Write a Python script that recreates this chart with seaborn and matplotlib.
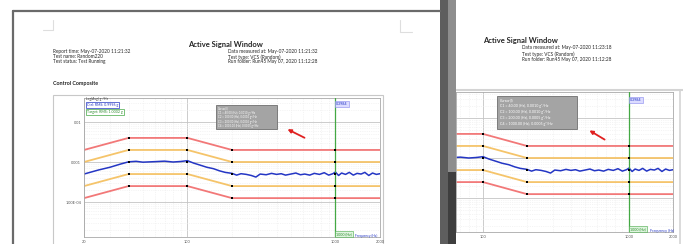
import numpy as np
import pandas as pd
import seaborn as sns
import matplotlib.pyplot as plt
from matplotlib.patches import Rectangle, FancyArrowPatch

# reference profile (Hz, g^2/Hz)
prof_freq = [20, 40, 100, 200, 2000]
prof_psd = [0.0005, 0.001, 0.001, 0.0005, 0.0005]
# breakpoints shown with markers
bp_freq = [40, 100, 200, 1000]
bp_psd = [0.001, 0.001, 0.0005, 0.0005]
# alarm / abort limit factors
limit_names = ["abort_hi", "alarm_hi", "alarm_lo", "abort_lo"]
limit_factors = [4, 2, 0.5, 0.25]

# control signal
ctrl_freq = [20, 25, 30, 35, 40, 45, 50, 60, 70, 80, 90, 100, 110, 120, 135, 150,
             165, 180, 200, 215, 230, 250, 270, 290, 310, 340, 370, 400, 430, 460,
             500, 540, 580, 620, 670, 720, 780, 840, 900, 960, 1000, 1050, 1100,
             1170, 1240, 1320, 1400, 1490, 1580, 1680, 1780, 1890, 2000]
ctrl_psd = [0.00050, 0.00063, 0.00074, 0.00088, 0.00101, 0.00104, 0.00099, 0.00102,
            0.00105, 0.00100, 0.00103, 0.00108, 0.00094, 0.00085, 0.00074, 0.00068,
            0.00060, 0.00055, 0.00052, 0.00047, 0.00051, 0.00049, 0.00046, 0.00042,
            0.00050, 0.00048, 0.00052, 0.00049, 0.00051, 0.00047, 0.00050, 0.00053,
            0.00048, 0.00050, 0.00047, 0.00052, 0.00049, 0.00054, 0.00047, 0.00051,
            0.00056, 0.00046, 0.00053, 0.00049, 0.00055, 0.00047, 0.00052, 0.00050,
            0.00055, 0.00046, 0.00053, 0.00049, 0.00051]

cursor_lines = ["Cursor(l)",
                "C1 = 40.00 (Hz), 0.0010 g\u00b2/Hz",
                "C2 = 100.00 (Hz), 0.0010 g\u00b2/Hz",
                "C3 = 200.00 (Hz), 0.0005 g\u00b2/Hz",
                "C4 = 1000.00 (Hz), 0.0005 g\u00b2/Hz"]

sns.set_theme(style="white")
plt.rcParams["font.family"] = ["Lato", "DejaVu Sans"]

W, H = 683, 244
fig = plt.figure(figsize=(W / 100, H / 100), dpi=100)
fig.patch.set_facecolor("white")


def fbox(x0, y0, x1, y1):
    return [x0 / W, 1 - y1 / H, (x1 - x0) / W, (y1 - y0) / H]


def put(x, y, s, **kw):
    fig.text(x / W, 1 - y / H, s, **kw)


def rect(x0, y0, x1, y1, **kw):
    fig.add_artist(Rectangle((x0 / W, 1 - y1 / H), (x1 - x0) / W, (y1 - y0) / H,
                             transform=fig.transFigure, **kw))


def fline(xs, ys, **kw):
    fig.add_artist(plt.Line2D([x / W for x in xs], [1 - y / H for y in ys],
                              transform=fig.transFigure, **kw))


def arrow(x0, y0, x1, y1, z):
    fig.add_artist(FancyArrowPatch(
        (x0 / W, 1 - y0 / H), (x1 / W, 1 - y1 / H), transform=fig.transFigure,
        arrowstyle="-|>", mutation_scale=5, color="#e02020", lw=1.3, zorder=z))


rows = []
for name, k in zip(limit_names, limit_factors):
    for f, p in zip(prof_freq, prof_psd):
        rows.append({"level": name, "freq": f, "psd": p * k})
lim_df = pd.DataFrame(rows)
pal = {"abort_hi": "#f27878", "abort_lo": "#f27878",
       "alarm_hi": "#f5c46a", "alarm_lo": "#f5c46a"}


def draw_chart(ax, xlim, ylim, xticks):
    ax.set_xscale("log")
    ax.set_yscale("log")
    sns.lineplot(data=lim_df, x="freq", y="psd", hue="level", palette=pal,
                 estimator=None, sort=False, legend=False, lw=1.3, ax=ax)
    sns.lineplot(x=ctrl_freq, y=ctrl_psd, color="#2436c4", lw=1.1,
                 estimator=None, ax=ax)
    for k in [4, 2, 1, 0.5, 0.25]:
        ax.scatter(bp_freq, [p * k for p in bp_psd], marker="s", s=4,
                   color="black", zorder=5, linewidths=0)
    ax.axvline(1000, color="#43a843", lw=0.9, zorder=4)
    ax.set_xlim(*xlim)
    ax.set_ylim(*ylim)
    ax.grid(which="major", color="#c4c4c4", lw=0.6)
    ax.grid(which="minor", color="#ececec", lw=0.4, ls=(0, (2, 2)))
    ax.set_xticks(xticks)
    ax.set_xticklabels([str(t) for t in xticks], fontsize=2.8, color="#555555")
    ax.set_yticks([1e-4, 1e-3, 1e-2])
    ax.set_yticklabels(["1.00E-04", "0.001", "0.01"], fontsize=2.8, color="#555555")
    ax.xaxis.set_minor_formatter(plt.NullFormatter())
    ax.yaxis.set_minor_formatter(plt.NullFormatter())
    ax.tick_params(which="both", length=0, pad=2)
    ax.set_xlabel("")
    ax.set_ylabel("")
    for sp in ax.spines.values():
        sp.set_color("#a8a8a8")
        sp.set_linewidth(0.6)
    ax.set_facecolor("white")


# ---- right page (behind) ----
fline([456, 683], [90, 90], color="#d4d4d4", lw=1.5)
fline([680, 680], [90, 244], color="#d4d4d4", lw=1.2)
axr = fig.add_axes(fbox(456, 92, 673, 232))
draw_chart(axr, (65.3, 2000), (10 ** -4.85, 10 ** -1.35), [100, 1000, 2000])
put(483, 40, "Active Signal Window", fontsize=5.5, fontweight="bold", va="center")
put(522, 48, "Data measured at: May-07-2020 11:23:18", fontsize=3.4, va="center")
put(522, 54, "Test type: VCS (Random)", fontsize=3.4, va="center")
put(522, 59, "Run folder: Run45 May 07, 2020 11:12:28", fontsize=3.4, va="center")
rect(497, 96, 577, 129, facecolor="#a4a4a4", edgecolor="#6e6e6e", lw=0.6, zorder=6)
for i, s in enumerate(cursor_lines):
    put(500, 100 + i * 6, s, fontsize=2.6, color="white", va="center", zorder=7)
arrow(607, 141, 587, 129, 7)
put(630, 100, "0.3984", fontsize=2.6, color="#2436c4", va="center",
    bbox=dict(boxstyle="square,pad=0.3", fc="#dcdcff", ec="#8888ee", lw=0.4))
put(630, 229, "1000 (Hz)", fontsize=2.6, color="#2a8a2a", va="center",
    bbox=dict(boxstyle="square,pad=0.3", fc="#dff5df", ec="#43a843", lw=0.4))
put(650, 231, "Frequency (Hz)", fontsize=2.6, color="#2436c4", va="center")

# ---- left page (front) ----
rect(0, 0, 456, 244, facecolor="white", edgecolor="none", zorder=8)
rect(440, 0, 448, 244, facecolor="#5e5e5e", edgecolor="none", zorder=9)
rect(448, 0, 456, 172, facecolor="#8e8e8e", edgecolor="none", zorder=9)
rect(448, 172, 456, 244, facecolor="#3e3e3e", edgecolor="none", zorder=9)
fline([13, 440], [11, 11], color="#6a6a6a", lw=1.6, zorder=9)
fline([13, 13], [11, 244], color="#6a6a6a", lw=1.6, zorder=9)
fline([53, 53, 43], [20, 30, 30], color="#dedede", lw=0.8, zorder=9)
fline([400, 400, 412], [20, 32, 32], color="#dedede", lw=0.8, zorder=9)

put(225, 44, "Active Signal Window", fontsize=5.5, fontweight="bold",
    ha="center", va="center", zorder=10)
meta_l = ["Report time: May-07-2020 11:21:32", "Test name: Random220",
          "Test status: Test Running"]
meta_r = ["Data measured at: May-07-2020 11:21:32", "Test type: VCS (Random)",
          "Run folder: Run45 May 07, 2020 11:12:28"]
for i in range(3):
    put(53, 52 + i * 5, meta_l[i], fontsize=3.4, va="center", zorder=10)
    put(228, 52 + i * 5, meta_r[i], fontsize=3.4, va="center", zorder=10)
put(53, 83, "Control Composite", fontsize=3.9, fontweight="bold", va="center", zorder=10)
rect(53, 95, 383, 250, facecolor="white", edgecolor="#c8c8c8", lw=0.8, zorder=10)

axl = fig.add_axes(fbox(84, 98, 380, 237))
axl.set_zorder(11)
draw_chart(axl, (20, 2000), (10 ** -4.875, 10 ** -1.4), [20, 100, 1000, 2000])
put(86, 99, "Log(Avg) g\u00b2/Hz", fontsize=2.4, color="#333333", va="center", zorder=12)
put(87, 105, "Ctrl: RMS: 0.9996 g", fontsize=2.6, color="#2436c4", va="center", zorder=12,
    bbox=dict(boxstyle="square,pad=0.3", fc="white", ec="#2436c4", lw=0.5))
put(87, 112, "Target: RMS: 1.0002 g", fontsize=2.6, color="#2a8a2a", va="center", zorder=12,
    bbox=dict(boxstyle="square,pad=0.3", fc="white", ec="#43a843", lw=0.5))
rect(216, 105, 277, 129, facecolor="#a4a4a4", edgecolor="#6e6e6e", lw=0.6, zorder=12)
for i, s in enumerate(cursor_lines):
    put(218, 108 + i * 4.5, s, fontsize=2.0, color="white", va="center", zorder=13)
arrow(307, 139, 285, 128, 13)
put(336, 104, "0.3984", fontsize=2.6, color="#2436c4", va="center", zorder=12,
    bbox=dict(boxstyle="square,pad=0.3", fc="#dcdcff", ec="#8888ee", lw=0.4))
put(336, 234, "1000 (Hz)", fontsize=2.6, color="#2a8a2a", va="center", zorder=12,
    bbox=dict(boxstyle="square,pad=0.3", fc="#dff5df", ec="#43a843", lw=0.4))
put(355, 236, "Frequency (Hz)", fontsize=2.4, color="#2436c4", va="center", zorder=12)

fig.savefig("out.png", dpi=100)
